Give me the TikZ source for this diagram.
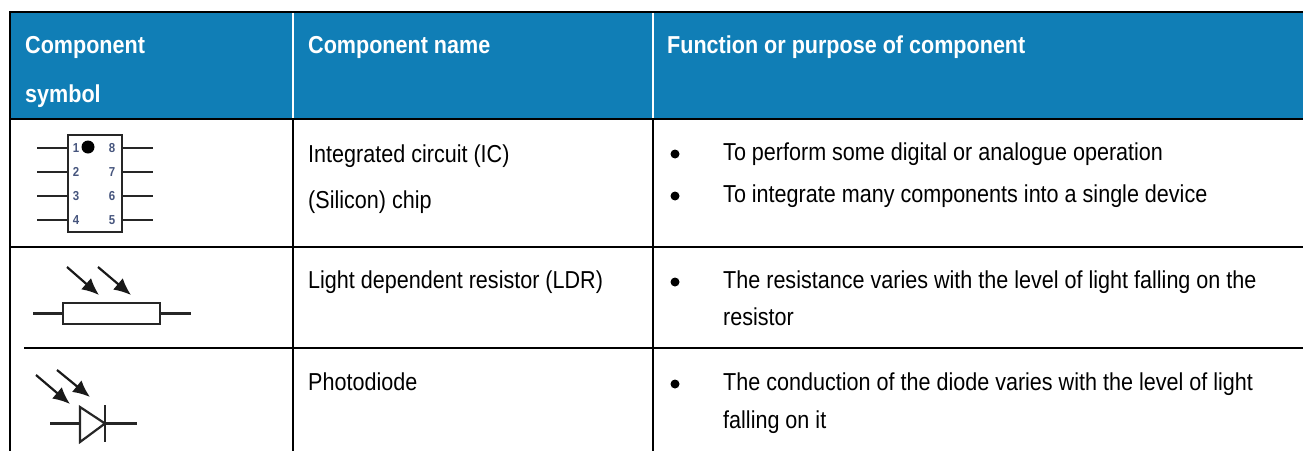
\documentclass[tikz,border=0pt]{standalone}
\usepackage{fontspec}
\setmainfont{Liberation Sans}[FakeStretch=0.88]
\usepackage{tikz}
\usetikzlibrary{arrows.meta}
\definecolor{headblue}{RGB}{16,126,182}
\definecolor{pinblue}{RGB}{70,85,125}

\tikzset{
	celltext/.style={anchor=base west, inner sep=0pt, font=\fontsize{24.5}{29}\selectfont},
	headtext/.style={anchor=base west, inner sep=0pt, text=white, font=\bfseries\fontsize{24.5}{29}\selectfont},
	dotnode/.style={circle, fill=black, inner sep=0pt, minimum size=9pt},
	pinlabel/.style={inner sep=0pt, text=pinblue, font=\bfseries\fontsize{13}{14}\selectfont},
	symline/.style={line width=2.2pt, black!85},
	gridline/.style={line width=2.4pt, line cap=rect},
	lightray/.style={line width=2.2pt, black!90, -{Latex[length=17pt,width=15pt]}}
}

\begin{document}
\begin{tikzpicture}[x=1pt,y=-1pt]
		\useasboundingbox (0,0) rectangle (1303,450);
		
		\fill[headblue] (10,12) rectangle (1303,119);
		\draw[white, line width=2.4pt] (293,12) -- (293,119);
		\draw[white, line width=2.4pt] (653,12) -- (653,119);
		
		\draw[gridline] (10,12) -- (1303,12);
		\draw[gridline] (10,119) -- (1303,119);
		\draw[gridline] (10,12) -- (10,450);
		\draw[gridline] (293,119) -- (293,450);
		\draw[gridline] (653,119) -- (653,450);
		\draw[gridline] (10,247) -- (1303,247);
		\draw[line width=1.8pt] (24,348) -- (200,348);
		\draw[gridline] (200,348) -- (1303,348);
		
		\node[headtext] (head1a) at (25,53) {Component};
		\node[headtext] (head1b) at (25,102) {symbol};
		\node[headtext] (head2) at (308,53) {Component name};
		\node[headtext] (head3) at (667,53) {Function or purpose of component};
		
		\node[celltext] (name1a) at (308,162) {Integrated circuit (IC)};
		\node[celltext] (name1b) at (308,208) {(Silicon) chip};
		\node[celltext] (name2) at (308,288) {Light dependent resistor (LDR)};
		\node[celltext] (name3) at (308,390) {Photodiode};
		
		\node[dotnode] (dot1a) at (675,154) {};
		\node[dotnode] (dot1b) at (675,196) {};
		\node[dotnode] (dot2) at (675,282) {};
		\node[dotnode] (dot3) at (675,384) {};
		
		\node[celltext] (use1a) at (723,160) {To perform some digital or analogue operation};
		\node[celltext] (use1b) at (723,202) {To integrate many components into a single device};
		\node[celltext] (use2a) at (723,288) {The resistance varies with the level of light falling on the};
		\node[celltext] (use2b) at (723,325) {resistor};
		\node[celltext] (use3a) at (723,390) {The conduction of the diode varies with the level of light};
		\node[celltext] (use3b) at (723,428) {falling on it};
		
		\draw[symline] (68,135) rectangle (122,232);
		\draw[symline] (37,148) -- (68,148);
		\draw[symline] (37,172) -- (68,172);
		\draw[symline] (37,196) -- (68,196);
		\draw[symline] (37,220) -- (68,220);
		\draw[symline] (122,148) -- (153,148);
		\draw[symline] (122,172) -- (153,172);
		\draw[symline] (122,196) -- (153,196);
		\draw[symline] (122,220) -- (153,220);
		\fill (88,147) circle[radius=6.5pt];
		
		\node[pinlabel] (pin1) at (76,148) {1};
		\node[pinlabel] (pin2) at (76,172) {2};
		\node[pinlabel] (pin3) at (76,196) {3};
		\node[pinlabel] (pin4) at (76,220) {4};
		\node[pinlabel] (pin8) at (112,148) {8};
		\node[pinlabel] (pin7) at (112,172) {7};
		\node[pinlabel] (pin6) at (112,196) {6};
		\node[pinlabel] (pin5) at (112,220) {5};
		
		\draw[symline] (63,303) rectangle (160,324);
		\draw[symline] (33,313.5) -- (63,313.5);
		\draw[symline] (160,313.5) -- (191,313.5);
		\coordinate (ldr1a) at (67,267);
		\coordinate (ldr1b) at (99,295);
		\coordinate (ldr2a) at (98,267);
		\coordinate (ldr2b) at (131,295);
		\draw[lightray] (ldr1a) -- (ldr1b);
		\draw[lightray] (ldr2a) -- (ldr2b);
		
		\draw[symline] (50,423.5) -- (80,423.5);
		\draw[symline] (105,423.5) -- (137,423.5);
		\draw[symline] (80,407) -- (105,423.5) -- (80,442) -- cycle;
		\draw[symline] (105,405) -- (105,442);
		\coordinate (pd1a) at (36,375);
		\coordinate (pd1b) at (70,404);
		\coordinate (pd2a) at (57,370);
		\coordinate (pd2b) at (90,397);
		\draw[lightray] (pd1a) -- (pd1b);
		\draw[lightray] (pd2a) -- (pd2b);
		\end{tikzpicture}
\end{document}
